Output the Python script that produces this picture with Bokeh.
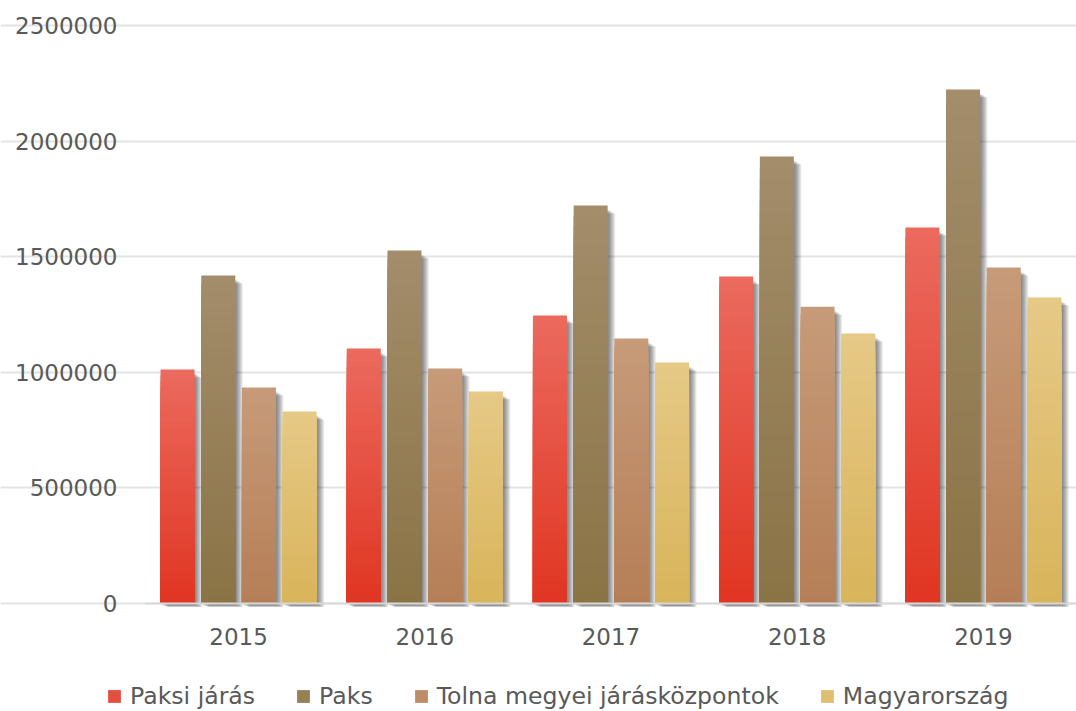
import numpy as np
from bokeh.plotting import figure
from bokeh.models import ColumnDataSource, Legend, LegendItem, FixedTicker, Range1d
from bokeh.embed import file_html
from bokeh.resources import INLINE

# ---- data ----
years = ["2015", "2016", "2017", "2018", "2019"]
series_names = ["Paksi járás", "Paks", "Tolna megyei járásközpontok", "Magyarország"]
paksi_jaras = [1012000, 1103000, 1246000, 1414000, 1626000]
paks = [1419000, 1527000, 1721000, 1933000, 2223000]
tolna_megyei = [934000, 1016000, 1146000, 1284000, 1453000]
magyarorszag = [830000, 917000, 1042000, 1168000, 1323000]
y_ticks = [0, 500000, 1000000, 1500000, 2000000, 2500000]

series_values = [paksi_jaras, paks, tolna_megyei, magyarorszag]
top_colors = ["#EB6A5E", "#A38D6B", "#C79B79", "#E6C986"]
bottom_colors = ["#E03522", "#8A7345", "#B57E56", "#D8B45A"]

FONT = "DejaVu Sans"
TXT = "#595959"

W, H = 1076, 711
PLOT_L, PLOT_T, PLOT_B = 145, 25, 603   # plotting area in canvas pixels
cat_px = 186.2
y_max = 2500000
px_x = 1.0 / cat_px
px_y = y_max / (PLOT_B - PLOT_T)
x0 = -0.5
x_start = x0 - PLOT_L * px_x
x_end = x0 + (W - PLOT_L) * px_x
y_start = -(H - PLOT_B) * px_y
y_end = y_max + PLOT_T * px_y

p = figure(width=W, height=H, output_backend="svg", toolbar_location=None,
           x_range=Range1d(x_start, x_end), y_range=Range1d(y_start, y_end),
           min_border=0, background_fill_color="white",
           border_fill_color="white", outline_line_color=None)

p.xgrid.grid_line_color = None
p.ygrid.grid_line_color = "#e3e3e3"
p.ygrid.grid_line_width = 2
p.ygrid.ticker = FixedTicker(ticks=y_ticks)
p.ygrid.bounds = (x0, x_end)

# axes
yax = p.yaxis[0]
yax.fixed_location = x0
yax.ticker = FixedTicker(ticks=y_ticks)
yax.axis_line_color = None
yax.major_tick_line_color = None
yax.minor_tick_line_color = None
yax.major_tick_out = 0
yax.major_tick_in = 0
yax.minor_tick_out = 0
yax.major_label_standoff = 28
yax.major_label_text_font = FONT
yax.major_label_text_font_size = "23px"
yax.major_label_text_color = TXT
yax.formatter.use_scientific = False

xax = p.xaxis[0]
xax.fixed_location = 0
xax.bounds = (x0, x_end)
xax.ticker = FixedTicker(ticks=list(range(len(years))))
xax.major_label_overrides = {i: y for i, y in enumerate(years)}
xax.axis_line_color = "#d9d9d9"
xax.axis_line_width = 2
xax.major_tick_line_color = None
xax.minor_tick_line_color = None
xax.major_tick_out = 0
xax.major_tick_in = 0
xax.minor_tick_out = 0
xax.major_label_standoff = 24
xax.major_label_text_font = FONT
xax.major_label_text_font_size = "23px"
xax.major_label_text_color = TXT


def hex2rgb(h):
    h = h.lstrip("#")
    return np.array([int(h[i:i + 2], 16) for i in (0, 2, 4)], dtype=float)


def rgb2hex(c):
    c = np.clip(np.round(c), 0, 255).astype(int)
    return "#%02x%02x%02x" % tuple(c)


bar_w = 34 * px_x
step = 40.7 * px_x
N = 40

# soft drop shadows
for k, vals in enumerate(series_values):
    off = (k - 1.5) * step
    for dx, dy in [(1.5, 4), (2.5, 5), (3.5, 5.5), (4.5, 6), (5.5, 7), (6.5, 7.5), (7.5, 8)]:
        l, r, t, b = [], [], [], []
        for i, v in enumerate(vals):
            cx = i + off
            l.append(cx - bar_w / 2 + dx * px_x)
            r.append(cx + bar_w / 2 + dx * px_x)
            t.append(v - dy * px_y)
            b.append(-dy * px_y * 0.45)
        p.quad(left=l, right=r, top=t, bottom=b, fill_color="black",
               fill_alpha=0.08, line_color=None)

renderers = []
for k, vals in enumerate(series_values):
    off = (k - 1.5) * step
    c_top = hex2rgb(top_colors[k])
    c_bot = hex2rgb(bottom_colors[k])
    l, r, t, b, col = [], [], [], [], []
    for i, v in enumerate(vals):
        cx = i + off
        for j in range(N):
            f = (j + 0.5) / N
            l.append(cx - bar_w / 2)
            r.append(cx + bar_w / 2)
            t.append(v * (1 - j / N))
            b.append(0)
            col.append(rgb2hex(c_top + (c_bot - c_top) * f))
    src = ColumnDataSource(dict(left=l, right=r, top=t, bottom=b, color=col))
    rr = p.quad(left="left", right="right", top="top", bottom="bottom",
                fill_color="color", line_color=None, source=src)
    renderers.append(rr)

items = [LegendItem(label=name, renderers=[renderers[k]], index=N // 2)
         for k, name in enumerate(series_names)]
legend = Legend(items=items, orientation="horizontal", location=(106, 1),
                glyph_width=16, glyph_height=16, label_standoff=8, spacing=40,
                padding=0, margin=0, border_line_color=None,
                background_fill_alpha=0, label_text_font=FONT,
                label_text_font_size="23.6px", label_text_color=TXT,
                label_height=17)
p.add_layout(legend, "center")

open("out.html", "w").write(file_html(p, INLINE))
